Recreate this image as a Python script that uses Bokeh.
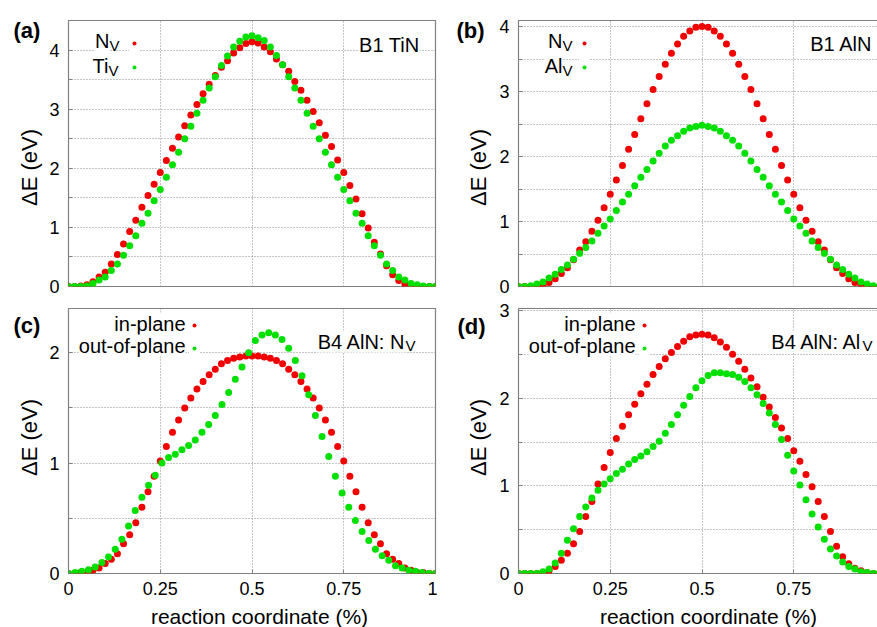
import math
from bokeh.plotting import figure
from bokeh.models import Range1d, FixedTicker, Label, Legend, LegendItem
from bokeh.layouts import column, row
from bokeh.embed import file_html
from bokeh.resources import INLINE

FONT = "Liberation Sans"
RED = "#f00000"
GREEN = "#00e000"
FRAME = "#808080"

# ---------------- data ----------------
reaction_coordinate = [i / 60 for i in range(61)]
# the out-of-plane N-vacancy path of B4 AlN is sampled with 56 images
reaction_coordinate_56 = [k / 55 for k in range(56)]

b1_tin_nv = [0, 0, 0.01, 0.03, 0.08, 0.16, 0.24, 0.38, 0.54, 0.72,
             0.93, 1.12, 1.34, 1.54, 1.73, 1.93, 2.13, 2.34, 2.53, 2.72,
             2.90, 3.08, 3.26, 3.42, 3.57, 3.71, 3.82, 3.95, 4.04, 4.11,
             4.14, 4.12, 4.05, 3.97, 3.85, 3.75, 3.64, 3.47, 3.32, 3.15,
             2.96, 2.77, 2.56, 2.37, 2.14, 1.93, 1.71, 1.48, 1.23, 0.99,
             0.75, 0.55, 0.35, 0.20, 0.10, 0.04, 0.01, 0, 0, 0, 0]
b1_tin_tiv = [0, 0, 0, 0.01, 0.05, 0.11, 0.16, 0.27, 0.38, 0.53,
              0.69, 0.86, 1.07, 1.24, 1.45, 1.64, 1.85, 2.06, 2.27, 2.50,
              2.71, 2.93, 3.15, 3.36, 3.55, 3.74, 3.90, 4.05, 4.15, 4.22,
              4.24, 4.21, 4.16, 4.05, 3.91, 3.75, 3.55, 3.36, 3.15, 2.93,
              2.71, 2.50, 2.27, 2.06, 1.85, 1.64, 1.45, 1.24, 1.07, 0.86,
              0.69, 0.53, 0.38, 0.27, 0.16, 0.11, 0.05, 0.03, 0.01, 0, 0]

b1_aln_nv = [0, 0, 0, 0, 0.02, 0.06, 0.12, 0.20, 0.29, 0.41,
             0.56, 0.69, 0.85, 1.02, 1.21, 1.42, 1.64, 1.86, 2.11, 2.34,
             2.58, 2.81, 3.03, 3.23, 3.42, 3.59, 3.73, 3.85, 3.93, 3.99,
             4.00, 3.99, 3.93, 3.85, 3.73, 3.59, 3.42, 3.23, 3.03, 2.81,
             2.58, 2.34, 2.11, 1.86, 1.64, 1.42, 1.21, 1.02, 0.85, 0.69,
             0.56, 0.41, 0.29, 0.20, 0.12, 0.06, 0.02, 0, 0, 0, 0]
b1_aln_alv = [0, 0, 0.01, 0.04, 0.07, 0.13, 0.19, 0.26, 0.33, 0.42,
              0.51, 0.60, 0.70, 0.82, 0.93, 1.04, 1.17, 1.30, 1.42, 1.55,
              1.68, 1.80, 1.93, 2.05, 2.16, 2.25, 2.32, 2.39, 2.44, 2.46,
              2.48, 2.46, 2.44, 2.39, 2.32, 2.25, 2.16, 2.05, 1.93, 1.80,
              1.68, 1.55, 1.42, 1.30, 1.17, 1.04, 0.93, 0.82, 0.70, 0.60,
              0.51, 0.42, 0.33, 0.26, 0.19, 0.13, 0.07, 0.04, 0.01, 0, 0]

b4_nv_in = [0, 0, 0.01, 0.01, 0.03, 0.05, 0.09, 0.13, 0.18, 0.27,
            0.35, 0.46, 0.60, 0.74, 0.88, 1.02, 1.15, 1.28, 1.39, 1.50,
            1.59, 1.67, 1.74, 1.80, 1.85, 1.90, 1.93, 1.95, 1.96, 1.97,
            1.97, 1.97, 1.96, 1.95, 1.93, 1.90, 1.85, 1.80, 1.74, 1.67,
            1.59, 1.50, 1.39, 1.28, 1.15, 1.02, 0.88, 0.74, 0.60, 0.46,
            0.35, 0.27, 0.18, 0.13, 0.09, 0.05, 0.03, 0.01, 0.01, 0, 0]
b4_nv_out = [0, 0.01, 0.02, 0.035, 0.06, 0.10, 0.15, 0.22, 0.31, 0.43,
             0.57, 0.69, 0.80, 0.89, 1.00, 1.05, 1.08, 1.12, 1.16, 1.21,
             1.28, 1.35, 1.43, 1.53, 1.64, 1.76, 1.87, 2.00, 2.11, 2.16,
             2.18, 2.16, 2.12, 2.04, 1.93, 1.79, 1.62, 1.43, 1.24, 1.06,
             0.88, 0.73, 0.60, 0.48, 0.38, 0.30, 0.22, 0.16, 0.12, 0.07,
             0.05, 0.03, 0.02, 0.01, 0, 0]

b4_alv_in = [0, 0, 0, 0, 0.01, 0.03, 0.08, 0.15, 0.23, 0.34,
             0.48, 0.65, 0.82, 1.02, 1.21, 1.38, 1.54, 1.68, 1.81, 1.93,
             2.05, 2.16, 2.27, 2.36, 2.45, 2.52, 2.59, 2.65, 2.70, 2.72,
             2.73, 2.72, 2.69, 2.64, 2.58, 2.50, 2.42, 2.33, 2.23, 2.13,
             2.01, 1.90, 1.78, 1.66, 1.54, 1.40, 1.28, 1.13, 0.99, 0.82,
             0.65, 0.48, 0.31, 0.19, 0.11, 0.06, 0.03, 0.01, 0, 0, 0]
b4_alv_out = [0, 0, 0, 0, 0.02, 0.05, 0.12, 0.23, 0.38, 0.51,
              0.65, 0.76, 0.86, 0.95, 1.02, 1.08, 1.14, 1.19, 1.25, 1.30,
              1.34, 1.39, 1.45, 1.51, 1.60, 1.70, 1.81, 1.92, 2.02, 2.12,
              2.20, 2.26, 2.29, 2.29, 2.28, 2.27, 2.24, 2.19, 2.12, 2.04,
              1.94, 1.83, 1.70, 1.53, 1.35, 1.17, 1.01, 0.84, 0.68, 0.53,
              0.39, 0.28, 0.20, 0.13, 0.08, 0.05, 0.02, 0.01, 0, 0, 0]

x_ticks = [0, 0.25, 0.5, 0.75, 1]
x_tick_labels = {0: "0", 0.25: "0.25", 0.5: "0.5", 0.75: "0.75", 1: "1"}
x_label = "reaction coordinate (%)"
y_label = "\u0394E (eV)"

# ---------------- helpers ----------------
def make_panel(ymax, yticks, fw, fh, left, right, top, bottom, xmax, show_x):
    p = figure(frame_width=fw, frame_height=fh,
               x_range=Range1d(0, xmax), y_range=Range1d(0, ymax),
               output_backend="svg", toolbar_location=None,
               min_border_left=left, min_border_right=right,
               min_border_top=top, min_border_bottom=bottom)
    p.background_fill_color = "white"
    p.border_fill_color = "white"
    p.outline_line_color = FRAME
    p.outline_line_width = 1.2

    halves = [k * 0.5 for k in range(1, int(ymax * 2) + 1)]
    p.yaxis.ticker = FixedTicker(ticks=yticks, minor_ticks=halves)
    p.yaxis.axis_line_color = None
    p.yaxis.major_tick_in = 4
    p.yaxis.major_tick_out = 0
    p.yaxis.minor_tick_in = 4
    p.yaxis.minor_tick_out = 0
    p.yaxis.major_tick_line_color = FRAME
    p.yaxis.minor_tick_line_color = FRAME
    p.yaxis.major_label_standoff = 9
    p.yaxis.major_label_text_font = FONT
    p.yaxis.major_label_text_font_size = "18px"
    p.yaxis.major_label_text_color = "black"

    if show_x:
        p.xaxis.ticker = FixedTicker(ticks=x_ticks)
        p.xaxis.major_label_overrides = x_tick_labels
        p.xaxis.axis_line_color = None
        p.xaxis.major_tick_in = 4
        p.xaxis.major_tick_out = 0
        p.xaxis.minor_tick_line_color = None
        p.xaxis.major_tick_line_color = FRAME
        p.xaxis.major_label_standoff = 8
        p.xaxis.major_label_text_font = FONT
        p.xaxis.major_label_text_font_size = "18px"
        p.xaxis.major_label_text_color = "black"
    else:
        p.xaxis.visible = False

    p.xgrid.ticker = FixedTicker(ticks=[0.25, 0.5, 0.75])
    p.ygrid.ticker = FixedTicker(ticks=[h for h in halves if h < ymax])
    p.grid.grid_line_color = "#8a8a8a"
    p.grid.grid_line_dash = "1 2"
    p.grid.grid_line_width = 1
    return p


def make_strip(w, top, fh, bottom):
    # text-only strip whose frame lines up with the neighbouring panel frame;
    # data y = pixels measured from the strip's bottom edge
    s = figure(frame_width=w, frame_height=fh,
               x_range=Range1d(0, w), y_range=Range1d(bottom, bottom + fh),
               x_axis_type=None, y_axis_type=None,
               output_backend="svg", toolbar_location=None,
               min_border_left=0, min_border_right=0,
               min_border_top=top, min_border_bottom=bottom)
    s.outline_line_color = None
    s.background_fill_color = "white"
    s.border_fill_color = "white"
    return s, top + fh + bottom


def text(p, x, y, t, size, align="left", bold=False, angle=0.0, bg=None):
    p.add_layout(Label(x=x, y=y, text=t, text_font=FONT,
                       text_font_size=f"{size}px", text_align=align,
                       text_baseline="middle", text_color="black",
                       text_font_style="bold" if bold else "normal",
                       angle=angle, background_fill_color=bg))


def strip_text(strip, x, y_from_top, t, size, **kw):
    s, total = strip
    text(s, x, total - y_from_top, t, size, **kw)


def put(p, fx, fy, t, size, align="left", bg=None):
    # position in pixels from the frame's top-left corner (text centre line)
    x0, x1 = p.x_range.start, p.x_range.end
    y0, y1 = p.y_range.start, p.y_range.end
    x = x0 + fx * (x1 - x0) / p.frame_width
    y = y1 - fy * (y1 - y0) / p.frame_height
    text(p, x, y, t, size, align=align, bg=bg)


def add_series(p, red_x, red_vals, green_x, green_vals, leg_x, leg_top, pitch):
    r1 = p.scatter(red_x, red_vals, size=7, fill_color=RED, line_color=None)
    r2 = p.scatter(green_x, green_vals, size=7, fill_color=GREEN, line_color=None)
    gh = 20
    height = 2 * gh + (pitch - gh)
    leg = Legend(items=[LegendItem(label=" ", renderers=[r1]),
                        LegendItem(label=" ", renderers=[r2])],
                 location=(leg_x - 5, p.frame_height - leg_top - height),
                 glyph_width=10, glyph_height=gh, label_height=gh,
                 label_width=0, label_standoff=0, padding=0, margin=0,
                 spacing=pitch - gh, border_line_color=None,
                 background_fill_color="white", background_fill_alpha=1.0,
                 label_text_font_size="1px")
    p.add_layout(leg)


# ---------------- layout (page pixels) ----------------
FW_L, FW_R = 367, 362
FH_T, FH_B = 266, 265
XMAX_R = FW_R / FW_L
T1, B1 = 20, 11          # top / bottom borders, row 1
T2, B2 = 11, 29          # top / bottom borders, row 2

pa = make_panel(4.5, [0, 1, 2, 3, 4], FW_L, FH_T, 20, 2, T1, B1, 1.0, False)
pb = make_panel(266 / 65, [0, 1, 2, 3, 4], FW_R, FH_T, 21, 0, T1, B1, XMAX_R, False)
pc = make_panel(2.4, [0, 1, 2], FW_L, FH_B, 20, 2, T2, B2, 1.0, True)
pd = make_panel(3.023, [0, 1, 2, 3], FW_R, FH_B, 21, 0, T2, B2, XMAX_R, True)

rc = reaction_coordinate

# (a) B1 TiN
add_series(pa, rc, b1_tin_nv, rc, b1_tin_tiv, 66, 13, 24)
put(pa, 41, 20, "N", 20, align="right", bg="white")
put(pa, 41, 25, "V", 15)
put(pa, 40, 45, "Ti", 20, align="right", bg="white")
put(pa, 40, 50, "V", 15)
put(pa, 351, 24.5, "B1 TiN", 20, align="right", bg="white")

# (b) B1 AlN
add_series(pb, rc, b1_aln_nv, rc, b1_aln_alv, 66, 13, 24)
put(pb, 44, 20, "N", 20, align="right", bg="white")
put(pb, 44, 25, "V", 15)
put(pb, 44, 45, "Al", 20, align="right", bg="white")
put(pb, 44, 50, "V", 15)
put(pb, 354, 23.5, "B1 AlN", 20, align="right", bg="white")

# (c) B4 AlN: N_V
add_series(pc, rc, b4_nv_in, reaction_coordinate_56, b4_nv_out, 126, 7, 23)
put(pc, 117, 15, "in-plane", 20, align="right", bg="white")
put(pc, 117, 37, "out-of-plane", 20, align="right", bg="white")
put(pc, 337, 33, "B4 AlN: N", 20, align="right", bg="white")
put(pc, 337, 37, "V", 15)

# (d) B4 AlN: Al_V
add_series(pd, rc, b4_alv_in, rc, b4_alv_out, 126, 7, 23)
put(pd, 117, 15, "in-plane", 20, align="right", bg="white")
put(pd, 117, 37, "out-of-plane", 20, align="right", bg="white")
put(pd, 344, 33, "B4 AlN: Al", 20, align="right", bg="white")
put(pd, 344, 37, "V", 15)

# label strips left of each panel (panel letter + y-axis title)
la = make_strip(46, T1, FH_T, B1)
strip_text(la, 13, 30, "(a)", 22, bold=True)
strip_text(la, 29, 167, y_label, 22, align="center", angle=math.pi / 2)

lb = make_strip(59, T1, FH_T, B1)
strip_text(lb, 19, 30, "(b)", 22, bold=True)
strip_text(lb, 41, 167, y_label, 22, align="center", angle=math.pi / 2)

lc = make_strip(46, T2, FH_B, B2)
strip_text(lc, 13, 28, "(c)", 22, bold=True)
strip_text(lc, 29, 140, y_label, 22, align="center", angle=math.pi / 2)

ld = make_strip(59, T2, FH_B, B2)
strip_text(ld, 20, 29, "(d)", 22, bold=True)
strip_text(ld, 41, 140, y_label, 22, align="center", angle=math.pi / 2)

# x-axis titles strip
xs = make_strip(877, 0, 25, 0)
strip_text(xs, 259, 13.5, x_label, 21, align="center")
strip_text(xs, 708, 13.5, x_label, 21, align="center")

layout = column(row(la[0], pa, lb[0], pb), row(lc[0], pc, ld[0], pd), xs[0])

with open("out.html", "w") as f:
    f.write(file_html(layout, INLINE))
